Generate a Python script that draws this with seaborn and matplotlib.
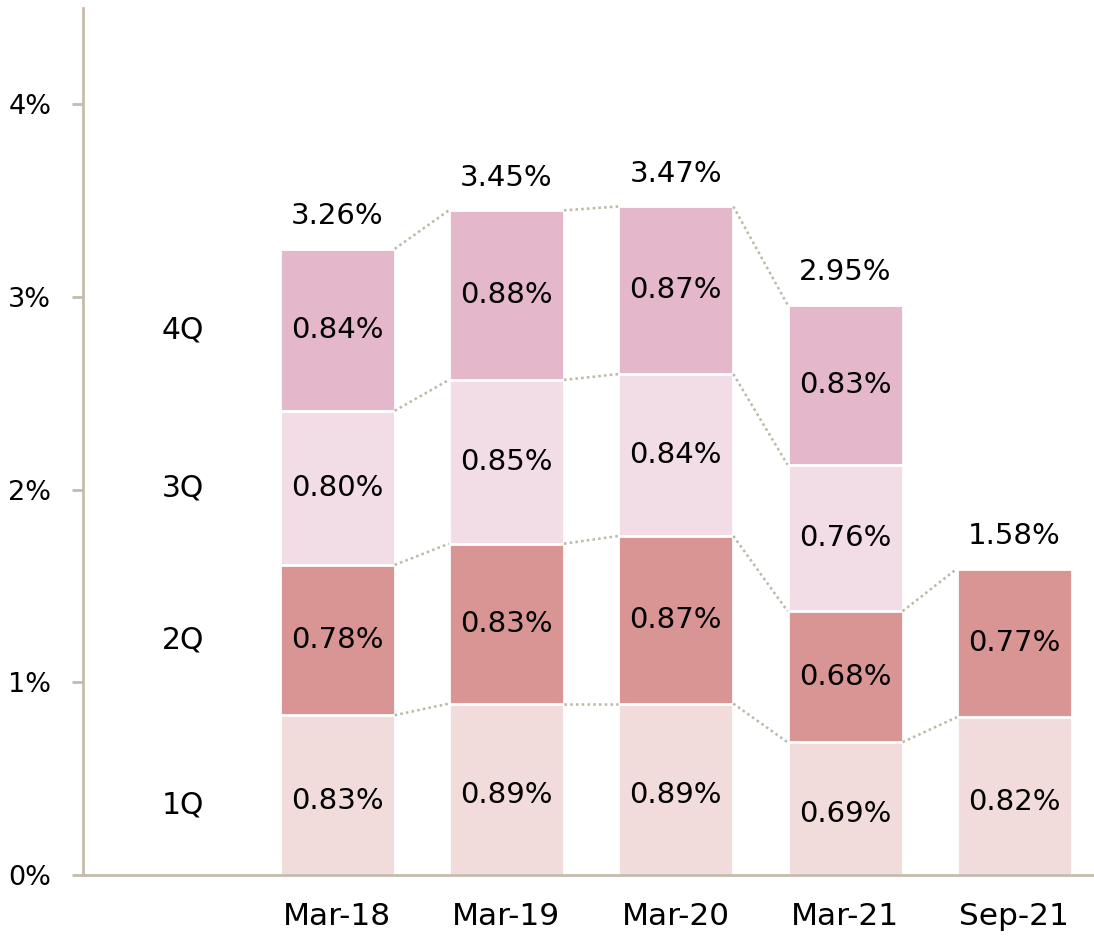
import numpy as np
import pandas as pd
import matplotlib
matplotlib.use("Agg")
import matplotlib.pyplot as plt
import seaborn as sns

# data (percent)
periods = ["Mar-18", "Mar-19", "Mar-20", "Mar-21", "Sep-21"]
q1 = [0.83, 0.89, 0.89, 0.69, 0.82]
q2 = [0.78, 0.83, 0.87, 0.68, 0.77]
q3 = [0.80, 0.85, 0.84, 0.76, np.nan]
q4 = [0.84, 0.88, 0.87, 0.83, np.nan]
totals = [3.26, 3.45, 3.47, 2.95, 1.58]
quarter_names = ["1Q", "2Q", "3Q", "4Q"]
yticks = [0, 1, 2, 3, 4]

COLORS = ["#F2DBDB", "#D99594", "#F2DCE5", "#E4B7CB"]
AXIS_COLOR = "#C4BCAC"
LINK_COLOR = "#BFB6A3"
FONT = ["DejaVu Sans"]

sns.set_theme(style="white")
plt.rcParams["font.family"] = FONT

segs = np.array([q1, q2, q3, q4])          # shape (4, n)
cum = np.nancumsum(segs, axis=0)
cum[np.isnan(segs)] = np.nan

order = [""] + periods
W = 0.68

fig = plt.figure(figsize=(10.94, 9.4), dpi=100)
ax = fig.add_axes([0.076, 0.069, 0.924, 0.9225])

# stacked bars by overlaying cumulative heights, tallest first
for k in range(3, -1, -1):
    df = pd.DataFrame({"period": periods, "value": cum[k]}).dropna()
    sns.barplot(data=df, x="period", y="value", order=order, color=COLORS[k],
                saturation=1, width=W, edgecolor="white", linewidth=2,
                errorbar=None, ax=ax)

# segment labels
pos = {p: i + 1 for i, p in enumerate(periods)}
for k in range(4):
    for j, p in enumerate(periods):
        v = segs[k, j]
        if np.isnan(v):
            continue
        mid = cum[k, j] - v / 2
        if k == 0:
            mid -= 0.03
        ax.text(pos[p], mid, f"{v:.2f}%", ha="center", va="center",
                fontsize=21, color="black")

# totals
for j, p in enumerate(periods):
    top = np.nanmax(cum[:, j])
    ax.text(pos[p], top + 0.17, f"{totals[j]:.2f}%", ha="center",
            va="center", fontsize=21, color="black")

# dotted connectors between adjacent bars
for j in range(len(periods) - 1):
    for k in range(4):
        a, b = cum[k, j], cum[k, j + 1]
        if np.isnan(a) or np.isnan(b):
            continue
        x0 = pos[periods[j]] + W / 2
        x1 = pos[periods[j + 1]] - W / 2
        ax.plot([x0, x1], [a, b], linestyle=(0, (1, 1.3)), color=LINK_COLOR,
                lw=1.8, zorder=3)

# quarter labels in the empty first slot
for k in range(4):
    mid = cum[k, 0] - segs[k, 0] / 2
    if k == 0:
        mid -= 0.05
    ax.text(0.09, mid, quarter_names[k], ha="center", va="center",
            fontsize=21.5, color="black")

ax.set_xlim(-0.5, 5.47)
ax.set_ylim(0, 4.5)
ax.set_yticks(yticks)
ax.set_yticklabels([f"{t}%" for t in yticks], fontsize=19.5, color="black")
ax.tick_params(axis="y", length=8, width=2, color=AXIS_COLOR, pad=15, left=True)
ax.tick_params(axis="x", length=0, pad=19, labelsize=22.5, labelcolor="black")
ax.set_xlabel("")
ax.set_ylabel("")
for side in ["top", "right"]:
    ax.spines[side].set_visible(False)
for side in ["left", "bottom"]:
    ax.spines[side].set_color(AXIS_COLOR)
    ax.spines[side].set_linewidth(2)

fig.savefig("out.png", dpi=100)
plt.close(fig)
